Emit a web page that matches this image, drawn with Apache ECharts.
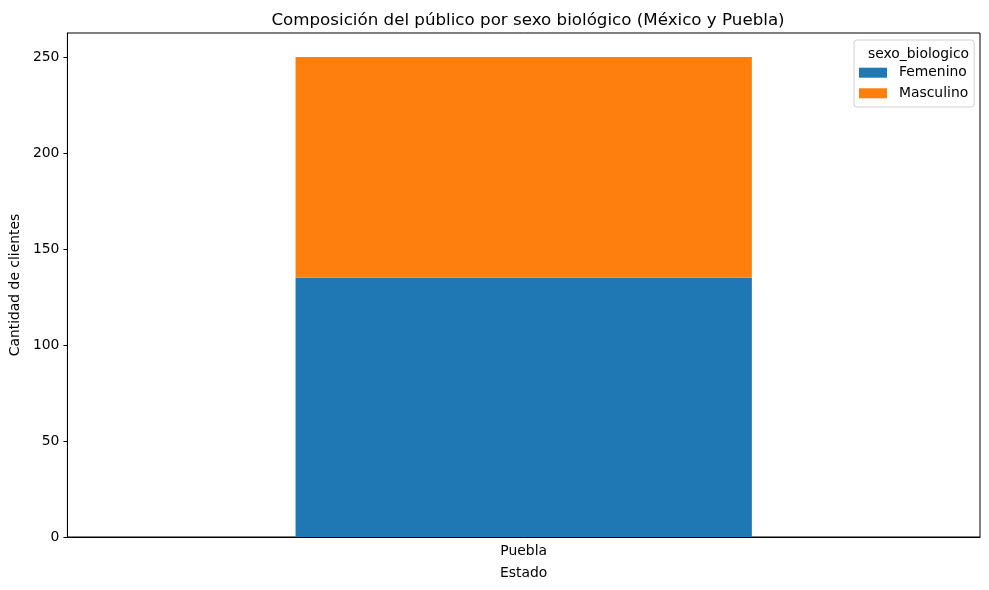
<!DOCTYPE html>
<html>
<head>
<meta charset="utf-8">
<script src="https://cdn.jsdelivr.net/npm/echarts@6/dist/echarts.min.js"></script>
<style>
  html, body { margin: 0; padding: 0; background: #fff; }
  #chart { width: 989px; height: 590px; }
</style>
</head>
<body>
<div id="chart"></div>
<script>
// data
const estados = ['Puebla'];
const femenino = [135];
const masculino = [115];
const yTicks = [0, 50, 100, 150, 200, 250];

const FONT = 'DejaVu Sans, sans-serif';
const FS = 13.9; // ~10pt

var chart = echarts.init(document.getElementById('chart'));

const option = {
  backgroundColor: '#fff',
  animation: false,
  textStyle: { fontFamily: FONT, color: '#000' },
  title: [
    {
      text: 'Composición del público por sexo biológico (México y Puebla)',
      left: 523, top: 7, textAlign: 'center',
      textStyle: { fontFamily: FONT, fontSize: 16.7, fontWeight: 'normal', color: '#000' }
    },
    { // legend title
      text: 'sexo_biologico',
      left: 913.5, top: 42, textAlign: 'center',
      textStyle: { fontFamily: FONT, fontSize: FS, fontWeight: 'normal', color: '#000' }
    }
  ],
  legend: {
    orient: 'vertical',
    left: 854, top: 40,
    padding: [25.4, 6, 6.4, 5],
    itemWidth: 28, itemHeight: 10,
    itemGap: 6,
    icon: 'rect',
    borderColor: '#d0d0d0', borderWidth: 1, borderRadius: 3,
    backgroundColor: 'rgba(255,255,255,0.8)',
    textStyle: { fontFamily: FONT, fontSize: FS, color: '#000', padding: [0, 0, 0, 7], lineHeight: 14.6 },
    data: ['Femenino', 'Masculino']
  },
  grid: {
    left: 66, right: 9, top: 33, bottom: 53,
    show: true, borderColor: '#000', borderWidth: 1,
    containLabel: false
  },
  xAxis: {
    type: 'category',
    data: estados,
    name: 'Estado',
    nameLocation: 'middle',
    nameGap: 29,
    nameTextStyle: { fontFamily: FONT, fontSize: FS, color: '#000' },
    axisLine: { lineStyle: { color: '#000', width: 1 } },
    axisTick: { alignWithLabel: true, length: 4, lineStyle: { color: '#000' } },
    axisLabel: { fontFamily: FONT, fontSize: FS, color: '#000', margin: 7 }
  },
  yAxis: {
    type: 'value',
    min: 0, max: 262.5, interval: 50,
    name: 'Cantidad de clientes',
    nameLocation: 'middle',
    nameGap: 44,
    nameTextStyle: { fontFamily: FONT, fontSize: FS, color: '#000' },
    axisLine: { show: true, lineStyle: { color: '#000', width: 1 } },
    axisTick: { show: true, length: 4, lineStyle: { color: '#000' }, customValues: yTicks },
    axisLabel: { fontFamily: FONT, fontSize: FS, color: '#000', margin: 8, customValues: yTicks },
    splitLine: { show: false }
  },
  series: [
    {
      name: 'Femenino', type: 'bar', stack: 'total',
      barWidth: '50%',
      itemStyle: { color: '#1f77b4' },
      data: femenino
    },
    {
      name: 'Masculino', type: 'bar', stack: 'total',
      barWidth: '50%',
      itemStyle: { color: '#ff7f0e' },
      data: masculino
    }
  ]
};

chart.setOption(option);
</script>
</body>
</html>
